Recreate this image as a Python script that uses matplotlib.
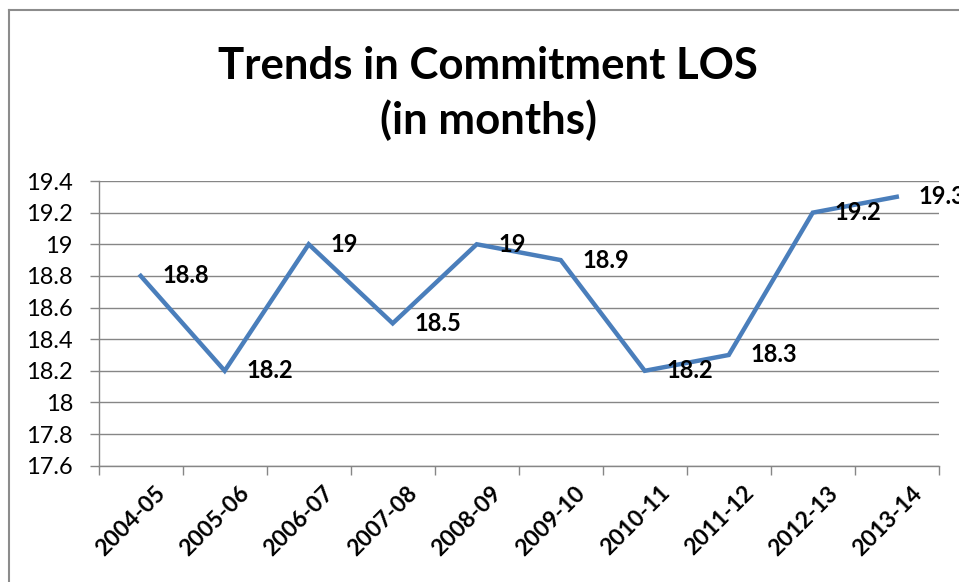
import matplotlib
matplotlib.use('Agg')
import matplotlib.pyplot as plt
from matplotlib.lines import Line2D
from matplotlib.transforms import ScaledTranslation
import numpy as np

# data
years = ['2004-05', '2005-06', '2006-07', '2007-08', '2008-09',
         '2009-10', '2010-11', '2011-12', '2012-13', '2013-14']
los_months = [18.8, 18.2, 19.0, 18.5, 19.0, 18.9, 18.2, 18.3, 19.2, 19.3]
value_labels = ['18.8', '18.2', '19', '18.5', '19', '18.9', '18.2', '18.3', '19.2', '19.3']
y_ticks = [17.6, 17.8, 18.0, 18.2, 18.4, 18.6, 18.8, 19.0, 19.2, 19.4]
y_tick_labels = ['17.6', '17.8', '18', '18.2', '18.4', '18.6', '18.8', '19', '19.2', '19.4']

plt.rcParams['font.family'] = ['Lato', 'DejaVu Sans']

fig = plt.figure(figsize=(9.59, 5.82), dpi=100)
ax = fig.add_axes([0.1029, 0.1998, 0.876, 0.4892])

grid_color = '#868686'
x = np.arange(len(years))
ax.plot(x, los_months, color='#4a7ebb', lw=3.2, solid_joinstyle='miter', zorder=3)

for xi, yi, lab in zip(x, los_months, value_labels):
    ax.annotate(lab, (xi, yi), xytext=(16, 0), textcoords='offset points',
                ha='left', va='center', fontsize=17, fontweight='bold',
                annotation_clip=False)

ax.set_xlim(-0.5, len(years) - 0.5)
ax.set_ylim(17.6, 19.4)
ax.set_yticks(y_ticks)
ax.set_yticklabels(y_tick_labels, fontsize=17)
ax.set_xticks(x)
ax.set_xticklabels(years, rotation=45, ha='right', rotation_mode='anchor',
                   fontsize=16.5, fontweight='bold')
ax.set_xticks(np.arange(len(years) + 1) - 0.5, minor=True)
ax.tick_params(axis='x', which='major', length=0, pad=12)
ax.tick_params(axis='x', which='minor', length=6.5, color=grid_color, width=1)
ax.tick_params(axis='y', length=6.5, color=grid_color, width=1, pad=12)

# nudge the slanted year labels to the right, like the original
shift = ScaledTranslation(14 / 100, 0, fig.dpi_scale_trans)
for lbl in ax.get_xticklabels():
    lbl.set_transform(lbl.get_transform() + shift)

ax.grid(axis='y', color=grid_color, lw=1)
ax.set_axisbelow(True)
for side in ['top', 'right']:
    ax.spines[side].set_visible(False)
for side in ['left', 'bottom']:
    ax.spines[side].set_color(grid_color)
    ax.spines[side].set_linewidth(1)

# title
fig.text(0.509, 1 - 79 / 582, 'Trends in Commitment LOS', ha='center', va='baseline',
         fontsize=31.5, fontweight='bold')
fig.text(0.509, 1 - 134 / 582, '(in months)', ha='center', va='baseline',
         fontsize=31.5, fontweight='bold')

# outer frame (runs off the right and bottom edges)
fig.add_artist(Line2D([9 / 959, 1.0], [1 - 10 / 582] * 2, color='#8c8c8c', lw=1.5,
                      transform=fig.transFigure))
fig.add_artist(Line2D([9 / 959] * 2, [0.0, 1 - 10 / 582], color='#8c8c8c', lw=1.5,
                      transform=fig.transFigure))

fig.savefig('out.png', dpi=100)
